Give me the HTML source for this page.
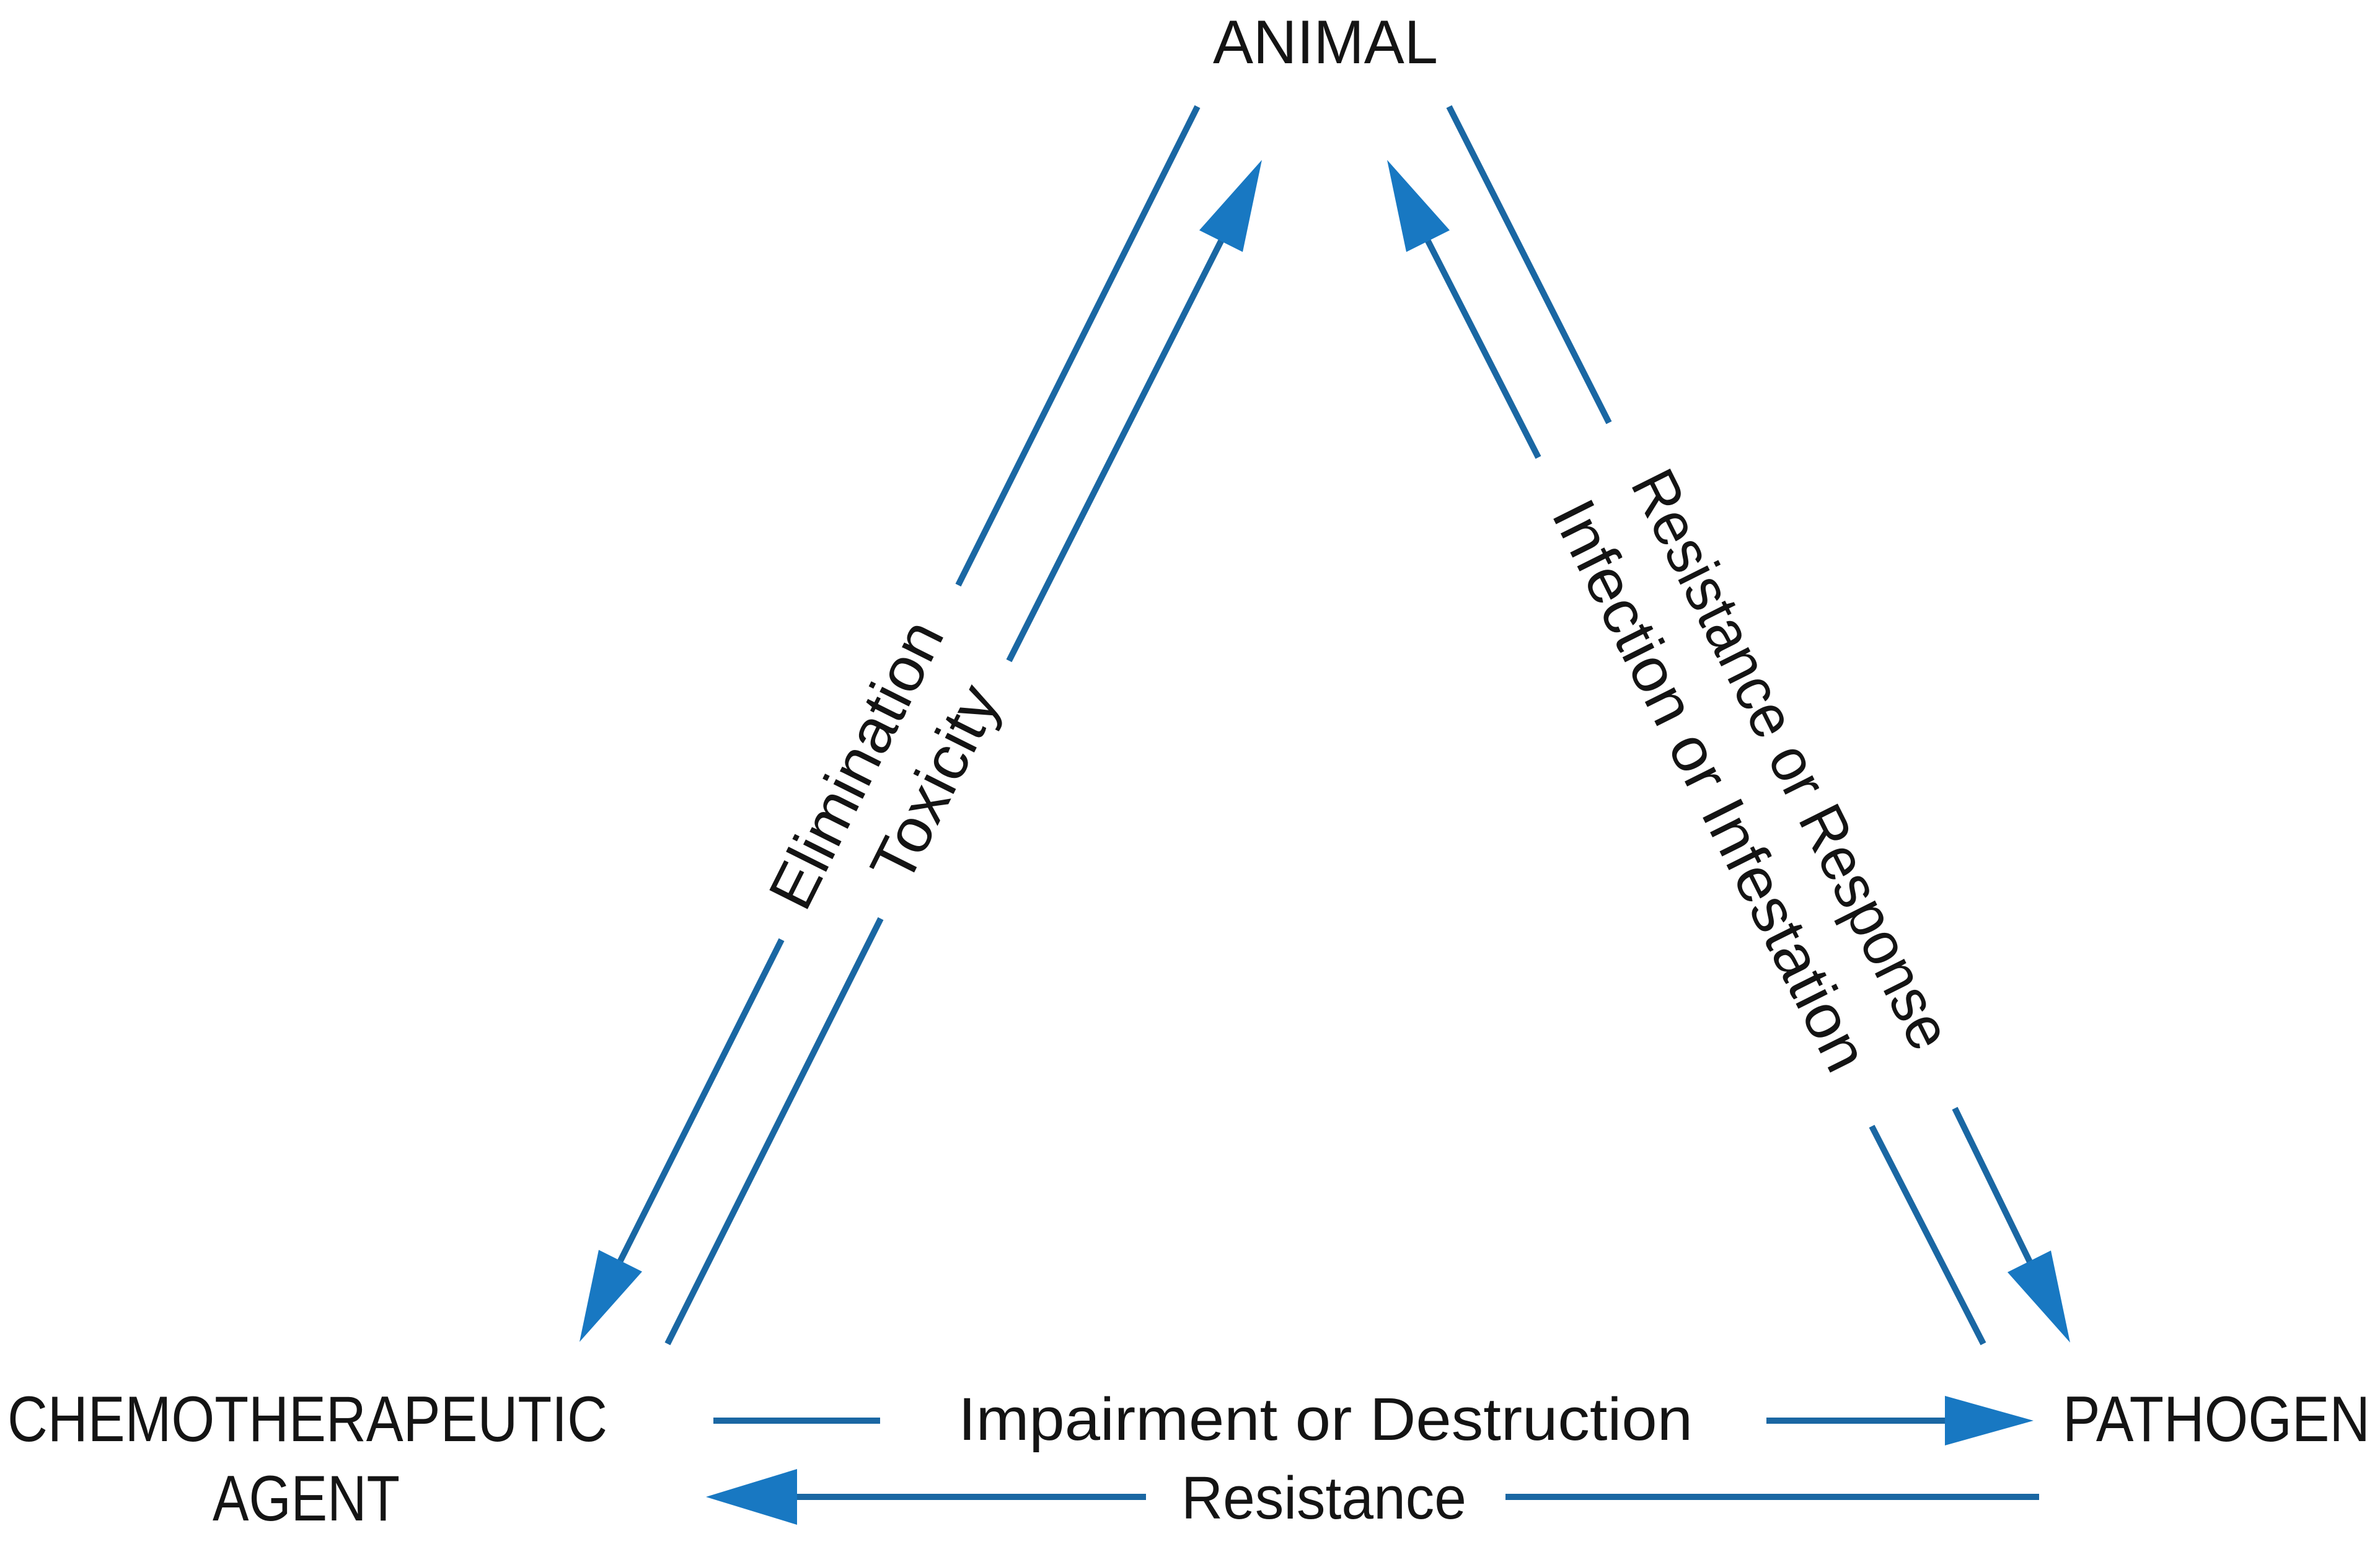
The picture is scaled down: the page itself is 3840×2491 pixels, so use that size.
<!DOCTYPE html>
<html>
<head>
<meta charset="utf-8">
<style>
  html, body { margin: 0; padding: 0; background: #ffffff; }
  svg { display: block; }
  text { font-family: "Liberation Sans", Arial, sans-serif; fill: #141414; }
</style>
</head>
<body>
<svg width="3840" height="2491" viewBox="0 0 3840 2491" xmlns="http://www.w3.org/2000/svg">
  <rect x="0" y="0" width="3840" height="2491" fill="#ffffff"/>

  <!-- connector lines -->
  <g stroke="#1a67a3" stroke-width="10" fill="none" stroke-linecap="butt">
    <!-- left outer (Elimination, down to agent) -->
    <line x1="1932" y1="172" x2="1546" y2="944"/>
    <line x1="1261" y1="1516" x2="998" y2="2040"/>
    <!-- left inner (Toxicity, up to animal) -->
    <line x1="1077" y1="2168" x2="1421" y2="1482"/>
    <line x1="1628" y1="1066" x2="1973" y2="383"/>
    <!-- right inner (Infection, up to animal) -->
    <line x1="3200" y1="2168" x2="3020" y2="1817"/>
    <line x1="2482" y1="738" x2="2301" y2="383"/>
    <!-- right outer (Resistance or Response, down to pathogen) -->
    <line x1="2338" y1="172" x2="2596" y2="682"/>
    <line x1="3154" y1="1788" x2="3277" y2="2040"/>
    <!-- bottom: impairment -->
    <line x1="1151" y1="2292" x2="1420" y2="2292"/>
    <line x1="2850" y1="2292" x2="3145" y2="2292"/>
    <!-- bottom: resistance -->
    <line x1="1280" y1="2415" x2="1849" y2="2415"/>
    <line x1="2429" y1="2415" x2="3290" y2="2415"/>
  </g>

  <!-- arrowheads -->
  <g fill="#1878c2" stroke="none">
    <polygon points="935,2165 1036,2051.5 966,2016.5"/>
    <polygon points="2036,258 2005,406.5 1935,371.5"/>
    <polygon points="2238,258 2339,371.5 2269,406.5"/>
    <polygon points="3340,2166 3309,2017.5 3239,2052.5"/>
    <polygon points="3281,2292 3138,2252 3138,2332"/>
    <polygon points="1139,2415 1286,2370 1286,2460"/>
  </g>

  <!-- node labels -->
  <text x="1957" y="102" font-size="99" textLength="363" lengthAdjust="spacingAndGlyphs">ANIMAL</text>
  <text x="12" y="2325" font-size="104" textLength="968" lengthAdjust="spacingAndGlyphs">CHEMOTHERAPEUTIC</text>
  <text x="343" y="2453" font-size="104" textLength="302" lengthAdjust="spacingAndGlyphs">AGENT</text>
  <text x="3328" y="2325" font-size="104" textLength="496" lengthAdjust="spacingAndGlyphs">PATHOGEN</text>

  <!-- connector labels -->
  <text x="1546" y="2323" font-size="97" textLength="1185" lengthAdjust="spacingAndGlyphs">Impairment or Destruction</text>
  <text x="1906" y="2450" font-size="97" textLength="460" lengthAdjust="spacingAndGlyphs">Resistance</text>

  <text transform="translate(1387,1236) rotate(-63.43)" x="0" y="28" font-size="100" text-anchor="middle" textLength="505" lengthAdjust="spacingAndGlyphs">Elimination</text>
  <text transform="translate(1514,1267) rotate(-63.43)" x="0" y="28" font-size="100" text-anchor="middle" textLength="340" lengthAdjust="spacingAndGlyphs">Toxicity</text>

  <text transform="translate(2885,1228) rotate(63.43)" x="0" y="28" font-size="100" text-anchor="middle" textLength="1030" lengthAdjust="spacingAndGlyphs">Resistance or Response</text>
  <text transform="translate(2754,1270) rotate(63.43)" x="0" y="28" font-size="100" text-anchor="middle" textLength="1015" lengthAdjust="spacingAndGlyphs">Infection or Infestation</text>
</svg>
</body>
</html>
